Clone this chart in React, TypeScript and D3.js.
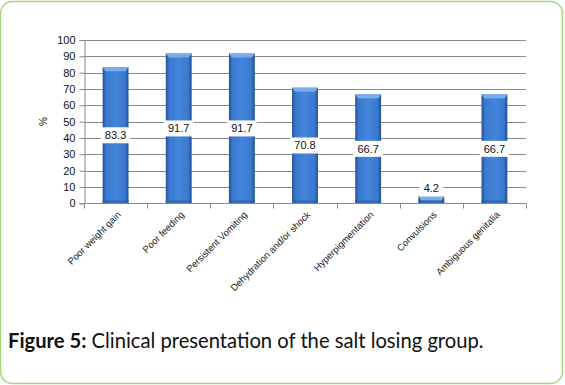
import React, { useEffect, useRef } from "react";
import * as d3 from "d3";

const categories = [
  "Poor weight gain",
  "Poor feeding",
  "Persistent Vomiting",
  "Dehydration and/or shock",
  "Hyperpigmentation",
  "Convulsions",
  "Ambiguous genitalia",
];
const values = [83.3, 91.7, 91.7, 70.8, 66.7, 4.2, 66.7];
const yTicks = [0, 10, 20, 30, 40, 50, 60, 70, 80, 90, 100];

const W = 565;
const H = 385;

const App = () => {
  const svgRef = useRef<SVGSVGElement>(null);

  useEffect(() => {
    const svg = d3.select(svgRef.current);
    svg.selectAll("*").remove();
    const margin = { top: 40, right: 39, bottom: 182, left: 84 };

    const pad = 0.59;
    const x = d3
      .scaleBand()
      .domain(categories)
      .range([margin.left, W - margin.right])
      .paddingInner(pad)
      .paddingOuter(pad / 2);
    const y = d3
      .scaleLinear()
      .domain([0, 100])
      .range([H - margin.bottom + 0.3, margin.top]);

    const defs = svg.append("defs");
    const grad = defs
      .append("linearGradient")
      .attr("id", "barGrad")
      .attr("x1", "0")
      .attr("x2", "1")
      .attr("y1", "0")
      .attr("y2", "0");
    [
      ["0%", "#24539a"],
      ["14%", "#3a79cf"],
      ["50%", "#4285db"],
      ["86%", "#3a79cf"],
      ["100%", "#234f93"],
    ].forEach(([o, c]) => grad.append("stop").attr("offset", o).attr("stop-color", c));

    // frame
    svg
      .append("rect")
      .attr("x", 0.5)
      .attr("y", 1.5)
      .attr("width", W - 3)
      .attr("height", H - 3)
      .attr("rx", 12)
      .attr("fill", "white")
      .attr("stroke", "#a9d57f")
      .attr("stroke-width", 1.5);

    // gridlines
    svg
      .append("g")
      .selectAll("line")
      .data(yTicks.slice(1))
      .join("line")
      .attr("x1", margin.left)
      .attr("x2", W - margin.right)
      .attr("y1", (d) => Math.round(y(d)) + 0.5)
      .attr("y2", (d) => Math.round(y(d)) + 0.5)
      .attr("stroke", "#8a8a8a")
      .attr("stroke-width", 1);

    // y axis
    const yAxis = svg
      .append("g")
      .attr("transform", `translate(${margin.left + 0.5},0)`)
      .call(d3.axisLeft(y).tickValues(yTicks).tickSize(5).tickPadding(4));
    yAxis.select(".domain").attr("stroke", "#8a8a8a");
    yAxis.selectAll(".tick line").attr("stroke", "#8a8a8a");
    yAxis
      .selectAll(".tick text")
      .attr("font-family", "Liberation Sans, Arial, sans-serif")
      .attr("font-size", 11)
      .attr("fill", "#111");

    svg
      .append("text")
      .attr("transform", `translate(47,${y(50)}) rotate(-90)`)
      .attr("text-anchor", "middle")
      .attr("font-family", "Liberation Sans, Arial, sans-serif")
      .attr("font-size", 10)
      .attr("fill", "#111")
      .text("%");

    // bars
    const bars = svg.append("g");
    categories.forEach((c, i) => {
      const v = values[i];
      const bx = x(c)!;
      const bw = x.bandwidth();
      const top = y(v);
      const bottom = y(0);
      bars
        .append("rect")
        .attr("x", bx)
        .attr("y", top)
        .attr("width", bw)
        .attr("height", bottom - top)
        .attr("fill", "url(#barGrad)");
      const cap = Math.min(4, bottom - top);
      bars
        .append("path")
        .attr(
          "d",
          `M${bx},${top}L${bx + bw},${top}L${bx + bw - 3},${top + cap}L${bx + 3},${top + cap}Z`
        )
        .attr("fill", "#7aacec");
      bars
        .append("rect")
        .attr("x", bx)
        .attr("y", bottom - 3)
        .attr("width", bw)
        .attr("height", 3)
        .attr("fill", "#2a5da4")
        .attr("opacity", 0.6);
    });

    // x axis
    const xAxisG = svg
      .append("g")
      .attr("transform", `translate(0,${Math.round(y(0)) + 0.5})`);
    xAxisG
      .append("line")
      .attr("x1", margin.left)
      .attr("x2", W - margin.right)
      .attr("stroke", "#8a8a8a");
    const half = (x.step() * pad) / 2;
    const boundaries = categories
      .map((c) => x(c)! - half)
      .concat([x(categories[categories.length - 1])! + x.bandwidth() + half]);
    xAxisG
      .selectAll("line.tk")
      .data(boundaries)
      .join("line")
      .attr("class", "tk")
      .attr("x1", (d) => Math.round(d) + 0.5)
      .attr("x2", (d) => Math.round(d) + 0.5)
      .attr("y1", 0)
      .attr("y2", 5)
      .attr("stroke", "#8a8a8a");

    svg
      .append("g")
      .selectAll("text")
      .data(categories)
      .join("text")
      .attr(
        "transform",
        (d) => `translate(${x(d)! + x.bandwidth() / 2 + 6},${y(0) + 12}) rotate(-45)`
      )
      .attr("text-anchor", "end")
      .attr("font-family", "Liberation Sans, Arial, sans-serif")
      .attr("font-size", 9.5)
      .attr("fill", "#222")
      .text((d) => d);

    // data labels
    const lab = svg.append("g");
    categories.forEach((c, i) => {
      const v = values[i];
      const cx = x(c)! + x.bandwidth() / 2;
      const cy = v < 10 ? y(v) - 8 : y(v / 2);
      const t = lab
        .append("text")
        .attr("x", cx)
        .attr("y", cy + 4)
        .attr("text-anchor", "middle")
        .attr("font-family", "Liberation Sans, Arial, sans-serif")
        .attr("font-size", 11)
        .attr("fill", "#111")
        .text(String(v));
      const bb = (t.node() as SVGTextElement).getBBox();
      lab
        .insert("rect", "text")
        .attr("x", bb.x - 4)
        .attr("y", cy - 8)
        .attr("width", bb.width + 8)
        .attr("height", 16)
        .attr("fill", "white");
    });

    // caption
    const cap = svg
      .append("text")
      .attr("x", 8)
      .attr("y", 348)
      .attr("font-family", "Lato, Open Sans, sans-serif")
      .attr("font-size", 20.2)
      .attr("fill", "#111");
    cap.append("tspan").attr("font-weight", "bold").text("Figure 5:");
    cap.append("tspan").text(" Clinical presentation of the salt losing group.");
  }, []);

  return (
    <svg
      ref={svgRef}
      width={W}
      height={H}
      style={{ position: "absolute", left: 0, top: 0, background: "white" }}
    ></svg>
  );
};

export default App;
